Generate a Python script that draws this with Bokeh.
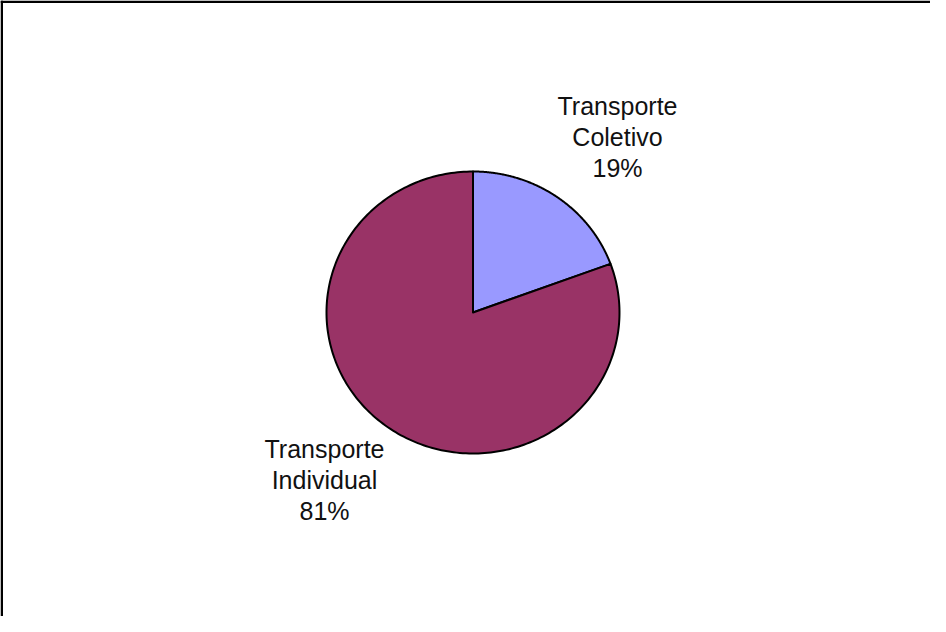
import numpy as np
from bokeh.plotting import figure
from bokeh.models import Range1d, Span, ColumnDataSource
from bokeh.core.properties import value
from bokeh.embed import file_html
from bokeh.resources import INLINE

# ---- data ----
categories = ["Transporte Coletivo", "Transporte Individual"]
label_lines = [["Transporte", "Coletivo"], ["Transporte", "Individual"]]
shares = [19.4, 80.6]
colors = ["#9999FF", "#993366"]

# ---- layout (pixels in data space) ----
W, H = 930, 616
cx, cy = 472.5, 304.0
rx, ry = 146.5, 141.0
label_pos = [(617.0, 479.5), (324.0, 136.5)]

p = figure(width=W, height=H, output_backend="svg", toolbar_location=None,
           x_range=Range1d(0, W), y_range=Range1d(0, H), min_border=0)
p.axis.visible = False
p.grid.visible = False
p.outline_line_color = None
p.background_fill_color = "white"
p.border_fill_color = "white"

fr = np.array(shares) / sum(shares)
ends = np.cumsum(fr) * 2 * np.pi
starts = np.concatenate([[0], ends[:-1]])

xs, ys = [], []
for a0, a1 in zip(starts, ends):
    t = np.linspace(a0, a1, 240)
    xs.append(np.concatenate([[cx], cx + rx * np.sin(t), [cx]]).tolist())
    ys.append(np.concatenate([[cy], cy + ry * np.cos(t), [cy]]).tolist())

p.patches(xs=xs, ys=ys, fill_color=colors, line_color="black", line_width=2,
          line_join="round")

texts = ["\n".join(lines + [f"{round(s):d}%"]) for lines, s in zip(label_lines, shares)]
src = ColumnDataSource(dict(x=[lp[0] for lp in label_pos],
                            y=[lp[1] for lp in label_pos], text=texts))
p.text(x="x", y="y", text="text", source=src, text_align="center",
       text_baseline="middle", text_font=value("Liberation Sans"),
       text_font_size="25px", text_color="#111111", text_line_height=1.11)

# chart-area border (only left and top edges visible in the reference)
p.add_layout(Span(location=1.25, dimension="height", line_color="black", line_width=2.5))
p.add_layout(Span(location=H - 1.25, dimension="width", line_color="black", line_width=2.5))

open("out.html", "w").write(file_html(p, INLINE))
